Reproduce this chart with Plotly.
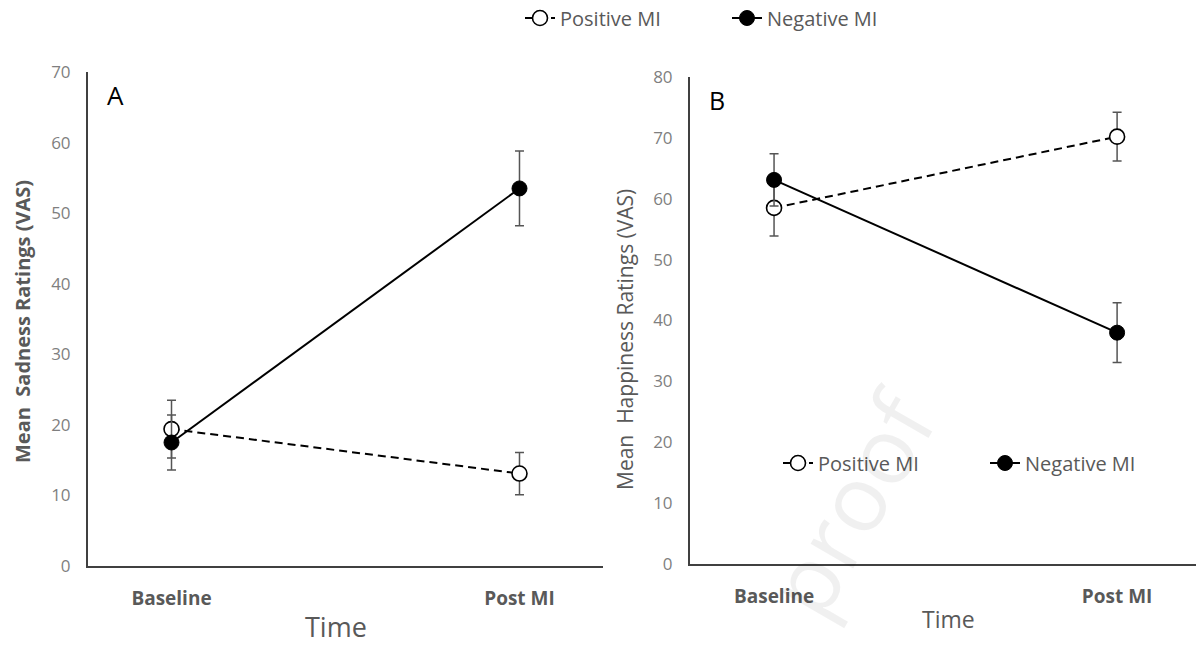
import plotly.graph_objects as go

W, H = 1196, 646

time_points = ["Baseline", "Post MI"]

# Panel A: sadness
sad_positive = [19.4, 13.1]
sad_positive_err = [4.1, 3.0]
sad_negative = [17.5, 53.5]
sad_negative_err = [3.9, 5.3]

# Panel B: happiness
hap_positive = [58.5, 70.2]
hap_positive_err = [4.6, 4.0]
hap_negative = [63.1, 38.0]
hap_negative_err = [4.3, 4.9]

series_names = ["Positive MI", "Negative MI"]

FONT = "Open Sans"
GRAY = "#595959"
TICKGRAY = "#7f7f7f"
AXC = "#404040"
ERRC = "#555555"


def px(x):
    return x / W


def py(y):
    return 1 - y / H


fig = go.Figure()


def add_pair(pos, pos_err, neg, neg_err, xa, ya, legend):
    fig.add_trace(go.Scatter(
        x=time_points, y=pos, name=series_names[0], mode="lines+markers",
        xaxis=xa, yaxis=ya, legend=legend,
        line=dict(color="black", width=2, dash="8px,5px"),
        marker=dict(symbol="circle", size=15, color="white",
                    line=dict(color="black", width=1.6)),
        error_y=dict(type="data", array=pos_err, visible=True,
                     color=ERRC, thickness=1.5, width=4.5),
    ))
    fig.add_trace(go.Scatter(
        x=time_points, y=neg, name=series_names[1], mode="lines+markers",
        xaxis=xa, yaxis=ya, legend=legend,
        line=dict(color="black", width=2),
        marker=dict(symbol="circle", size=15, color="black",
                    line=dict(color="black", width=1)),
        error_y=dict(type="data", array=neg_err, visible=True,
                     color=ERRC, thickness=1.5, width=4.5),
    ))


add_pair(sad_positive, sad_positive_err, sad_negative, sad_negative_err, "x", "y", "legend")
add_pair(hap_positive, hap_positive_err, hap_negative, hap_negative_err, "x2", "y2", "legend2")

xcommon = dict(type="category", showline=True, linecolor=AXC, linewidth=2,
               showgrid=False, zeroline=False, ticks="", automargin=False,
               tickfont=dict(family=FONT, size=19, color=GRAY, weight="bold"),
               ticklabelstandoff=14, fixedrange=True)
ycommon = dict(showline=True, linecolor=AXC, linewidth=2, showgrid=False,
               zeroline=False, ticks="", dtick=10, automargin=False,
               tickfont=dict(family=FONT, size=17, color=TICKGRAY),
               ticklabelstandoff=12, fixedrange=True)

fig.update_layout(
    width=W, height=H,
    margin=dict(l=0, r=0, t=0, b=0, autoexpand=False),
    paper_bgcolor="white", plot_bgcolor="white",
    font=dict(family=FONT, color=GRAY),
    xaxis=dict(xcommon, domain=[px(88), px(603)], range=[-0.24, 1.24], anchor="y"),
    yaxis=dict(ycommon, domain=[py(566), py(72)], range=[0, 70], anchor="x"),
    xaxis2=dict(xcommon, domain=[px(690), 1.0], range=[-0.245, 1.23], anchor="y2"),
    yaxis2=dict(ycommon, domain=[py(564), py(77)], range=[0, 80], anchor="x2"),
    legend=dict(orientation="h", x=px(520), xanchor="left", y=py(18), yanchor="middle",
                font=dict(family=FONT, size=20, color=GRAY),
                entrywidth=162, entrywidthmode="pixels", bgcolor="rgba(0,0,0,0)",
                itemclick=False, itemdoubleclick=False),
    legend2=dict(orientation="h", x=px(778), xanchor="left", y=py(463), yanchor="middle",
                 font=dict(family=FONT, size=20, color=GRAY),
                 entrywidth=162, entrywidthmode="pixels", bgcolor="rgba(0,0,0,0)",
                 itemclick=False, itemdoubleclick=False),
    showlegend=True,
)

annotations = [
    dict(text="A", x=px(115), y=py(95), font=dict(family=FONT, size=26, color="black")),
    dict(text="B", x=px(717), y=py(100), font=dict(family=FONT, size=25, color="black")),
    dict(text="Time", x=px(336), y=py(626), font=dict(family=FONT, size=27, color=GRAY)),
    dict(text="Time", x=px(948), y=py(619), font=dict(family=FONT, size=23, color=GRAY)),
    dict(text="Mean\u00a0 Sadness Ratings (VAS)", x=px(22), y=py(322), textangle=-90,
         font=dict(family=FONT, size=20, color=GRAY, weight="bold")),
    dict(text="Mean\u00a0 Happiness Ratings (VAS)", x=px(625), y=py(340), textangle=-90,
         font=dict(family=FONT, size=21, color=GRAY)),
    dict(text="proof", x=px(850), y=py(502), textangle=-60,
         font=dict(family=FONT, size=92, color="rgba(0,0,0,0.06)")),
]
for a in annotations:
    a.update(xref="paper", yref="paper", showarrow=False, xanchor="center", yanchor="middle")
fig.update_layout(annotations=annotations)

fig.write_html(
    "out.html",
    config={"displayModeBar": False, "staticPlot": False},
    post_script="document.body.style.margin='0';document.body.style.padding='0';"
                "document.documentElement.style.overflow='hidden';",
)
